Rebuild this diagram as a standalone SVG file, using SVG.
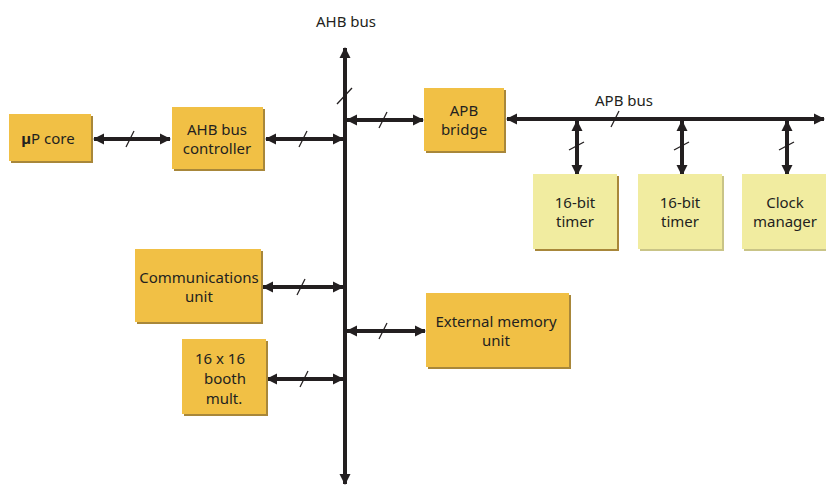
<svg xmlns="http://www.w3.org/2000/svg" width="826" height="486" viewBox="0 0 826 486">
  <style>
    text { font-family: "Comic Sans MS", "Noto Sans", "DejaVu Sans", sans-serif; font-size: 15px; fill: #231f20; text-anchor: middle; }
    .shadow { fill: #a8873a; }
    .amber { fill: #f1c045; }
    .pale { fill: #f1eca0; }
    .wire { stroke: #231f20; stroke-width: 4; fill: none; }
    .slash { stroke: #231f20; stroke-width: 1.3; fill: none; }
  </style>
  <defs>
    <marker id="head" markerUnits="userSpaceOnUse" markerWidth="12" markerHeight="12" refX="10" refY="6" orient="auto-start-reverse" viewBox="0 0 12 12">
      <path d="M0,0.5 L11,6 L0,11.5 Z" fill="#231f20"/>
    </marker>
  </defs>

  <rect width="826" height="486" fill="#ffffff"/>

  <!-- buses and links -->
  <g id="connectors">
    <!-- AHB bus -->
    <line class="wire" x1="345" y1="470" x2="345" y2="48" marker-end="url(#head)"/>
    <line class="wire" x1="345" y1="60" x2="345" y2="484" marker-end="url(#head)"/>
    <line class="slash" x1="337" y1="104" x2="352" y2="88"/>
    <!-- uP core <-> AHB bus controller -->
    <line class="wire" x1="94" y1="139" x2="170" y2="139" marker-start="url(#head)" marker-end="url(#head)"/>
    <line class="slash" x1="126" y1="147" x2="134" y2="131"/>
    <!-- controller <-> AHB -->
    <line class="wire" x1="266" y1="139" x2="343" y2="139" marker-start="url(#head)" marker-end="url(#head)"/>
    <line class="slash" x1="299" y1="147" x2="307" y2="131"/>
    <!-- AHB <-> APB bridge -->
    <line class="wire" x1="347" y1="120" x2="423" y2="120" marker-start="url(#head)" marker-end="url(#head)"/>
    <line class="slash" x1="379" y1="128" x2="387" y2="112"/>
    <!-- APB bus -->
    <line class="wire" x1="507" y1="119" x2="824" y2="119" marker-start="url(#head)" marker-end="url(#head)"/>
    <line class="slash" x1="611" y1="127" x2="619" y2="111"/>
    <!-- APB drops -->
    <line class="wire" x1="577" y1="121" x2="577" y2="175" marker-start="url(#head)" marker-end="url(#head)"/>
    <line class="slash" x1="569" y1="150" x2="584" y2="142"/>
    <line class="wire" x1="682" y1="121" x2="682" y2="175" marker-start="url(#head)" marker-end="url(#head)"/>
    <line class="slash" x1="674" y1="150" x2="689" y2="142"/>
    <line class="wire" x1="787" y1="121" x2="787" y2="175" marker-start="url(#head)" marker-end="url(#head)"/>
    <line class="slash" x1="779" y1="150" x2="794" y2="142"/>
    <!-- Communications unit <-> AHB -->
    <line class="wire" x1="263" y1="287" x2="343" y2="287" marker-start="url(#head)" marker-end="url(#head)"/>
    <line class="slash" x1="297" y1="295" x2="305" y2="279"/>
    <!-- External memory <-> AHB -->
    <line class="wire" x1="347" y1="331" x2="425" y2="331" marker-start="url(#head)" marker-end="url(#head)"/>
    <line class="slash" x1="379" y1="339" x2="387" y2="323"/>
    <!-- booth mult <-> AHB -->
    <line class="wire" x1="267" y1="379" x2="343" y2="379" marker-start="url(#head)" marker-end="url(#head)"/>
    <line class="slash" x1="300" y1="387" x2="308" y2="371"/>
  </g>

  <text x="346" y="27">AHB bus</text>
  <text x="624" y="106">APB bus</text>

  <g id="up-core">
    <rect class="shadow" x="11" y="116" width="82" height="47"/>
    <rect class="amber" x="9" y="114" width="82" height="47"/>
    <text x="48" y="144"><tspan font-weight="bold">µ</tspan>P core</text>
  </g>

  <g id="ahb-controller">
    <rect class="shadow" x="174" y="109" width="91" height="62"/>
    <rect class="amber" x="172" y="107" width="91" height="62"/>
    <text x="217" y="135">AHB bus</text>
    <text x="217" y="154">controller</text>
  </g>

  <g id="apb-bridge">
    <rect class="shadow" x="426" y="90" width="80" height="63"/>
    <rect class="amber" x="424" y="88" width="80" height="63"/>
    <text x="464" y="116">APB</text>
    <text x="464" y="135">bridge</text>
  </g>

  <g id="timer-1">
    <rect class="shadow" x="535" y="176" width="84" height="75" fill="#c9c487"/>
    <rect class="pale" x="533" y="174" width="84" height="75"/>
    <text x="575" y="208">16-bit</text>
    <text x="575" y="227">timer</text>
  </g>

  <g id="timer-2">
    <rect x="640" y="176" width="84" height="75" fill="#c9c487"/>
    <rect class="pale" x="638" y="174" width="84" height="75"/>
    <text x="680" y="208">16-bit</text>
    <text x="680" y="227">timer</text>
  </g>

  <g id="clock-manager">
    <rect x="744" y="176" width="84" height="75" fill="#c9c487"/>
    <rect class="pale" x="742" y="174" width="84" height="75"/>
    <text x="785" y="208">Clock</text>
    <text x="785" y="227">manager</text>
  </g>

  <g id="communications-unit">
    <rect class="shadow" x="137" y="251" width="126" height="73"/>
    <rect class="amber" x="135" y="249" width="126" height="73"/>
    <text x="199" y="283">Communications</text>
    <text x="199" y="302">unit</text>
  </g>

  <g id="external-memory">
    <rect class="shadow" x="428" y="295" width="143" height="74"/>
    <rect class="amber" x="426" y="293" width="143" height="74"/>
    <text x="496" y="327">External memory</text>
    <text x="496" y="346">unit</text>
  </g>

  <g id="booth-mult">
    <rect class="shadow" x="184" y="341" width="84" height="75"/>
    <rect class="amber" x="182" y="339" width="84" height="75"/>
    <text x="220" y="364">16 x 16</text>
    <text x="225" y="384">booth</text>
    <text x="224" y="404">mult.</text>
  </g>
</svg>
